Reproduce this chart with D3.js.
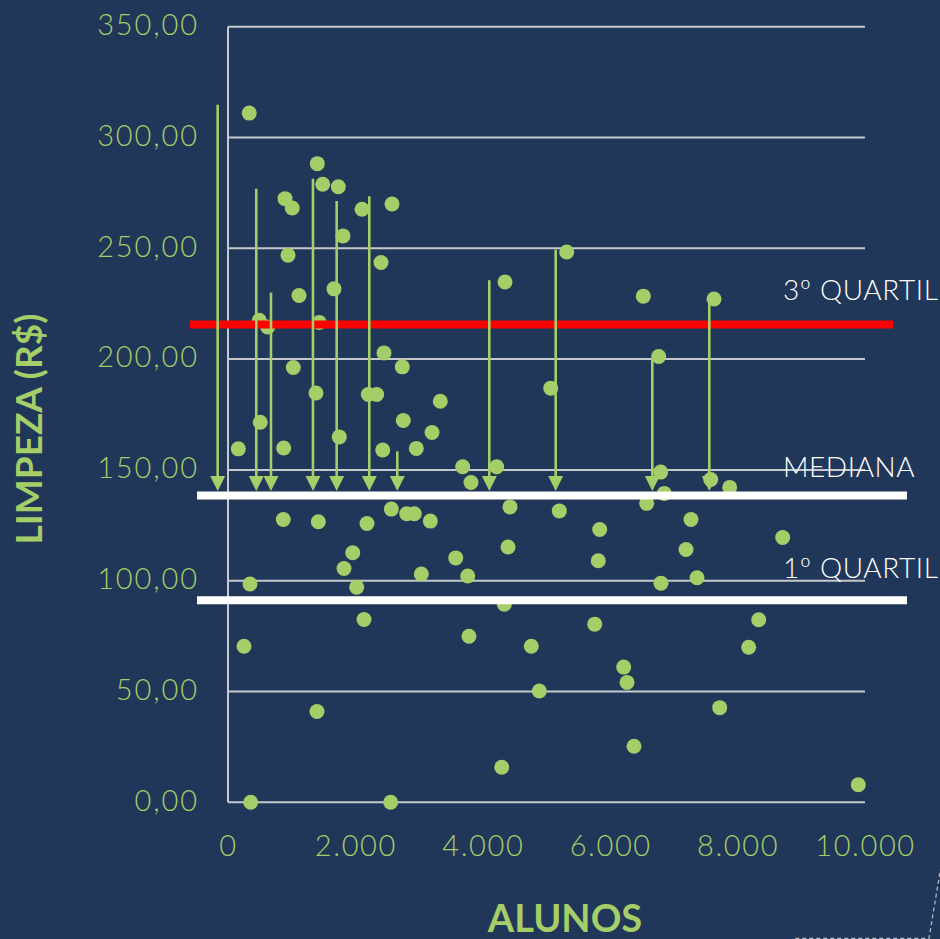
<!DOCTYPE html>
<html>
<head>
<meta charset="utf-8">
<script src="https://cdn.jsdelivr.net/npm/d3@7/dist/d3.min.js"></script>
<style>
  html, body { margin: 0; padding: 0; background: #203759; }
  svg { display: block; }
</style>
</head>
<body>
<svg id="chart" width="940" height="939"></svg>
<script>
// ---- DATA ----
const xTicks = [0, 2000, 4000, 6000, 8000, 10000];
const yTicks = [0, 50, 100, 150, 200, 250, 300, 350];

const alunos = [334,1402,1487,1732,895,1009,2104,2575,1805,942,
  2402,1115,1664,491,623,1433,2449,1025,2736,1381,
  2203,2334,507,2752,3203,3333,1747,162,874,2429,
  2956,3684,4218,3815,4349,5066,5317,6520,7630,6761,
  6793,7578,7876,6849,6573,4427,5201,2564,2805,2925,
  3176,868,1418,2182,7268,8708,5835,4396,3575,5813,
  7190,1958,1821,3035,3763,7363,6797,345,2020,4338,
  2135,5757,8331,3783,4761,8174,251,6212,6264,4887,
  7719,1397,6374,4297,9895,356,2554];
const limpeza = [311.0,288.2,278.9,277.8,272.4,268.2,267.6,270.0,255.6,246.9,
  243.6,228.7,231.7,217.5,214.5,216.5,202.8,196.2,196.5,184.7,
  184.0,184.0,171.5,172.3,166.9,181.0,164.9,159.5,159.9,159.0,
  159.7,151.4,151.4,144.3,234.8,186.9,248.3,228.4,227.1,201.2,
  149.0,145.7,142.1,139.4,134.9,133.3,131.5,132.3,130.2,130.2,
  126.9,127.6,126.6,125.8,127.6,119.5,123.1,115.2,110.3,109.0,
  114.1,112.6,105.5,103.0,102.1,101.3,98.9,98.5,97.1,89.4,
  82.5,80.4,82.4,74.9,70.4,70.0,70.4,61.0,54.1,50.2,
  42.7,41.0,25.3,15.8,7.9,0,0];

// arrows pointing down to the median
const arrowX   = [-162, 444, 675, 1334, 1706, 2218, 2658, 4102, 5144, 6661, 7556];
const arrowTop = [314.8, 276.9, 230.0, 281.4, 271.3, 273.5, 158.4, 235.6, 249.4, 200.2, 225.8];

const quartileLabels = ["3º QUARTIL", "MEDIANA", "1º QUARTIL"];
const quartileValues = [215.6, 138.5, 91.2];

const xTitle = "ALUNOS";
const yTitle = "LIMPEZA (R$)";

// ---- STYLE ----
const GREEN = "#a5cd68";
const GRID = "#c6c8cc";
const FONT = "Lato, 'Open Sans', sans-serif";

const svg = d3.select("#chart");
const W = 940, H = 939;
svg.append("rect").attr("width", W).attr("height", H).attr("fill", "#203759");

const x = d3.scaleLinear().domain([0, 10000]).range([228, 865]);
const y = d3.scaleLinear().domain([0, 350]).range([802.3, 26.7]);

const loc = d3.formatLocale({decimal: ",", thousands: ".", grouping: [3], currency: ["R$", ""]});
const fmtY = loc.format(",.2f");
const fmtX = loc.format(",d");

// grid lines
svg.append("g").selectAll("line").data(yTicks).join("line")
  .attr("x1", x(0)).attr("x2", x(10000))
  .attr("y1", d => y(d)).attr("y2", d => y(d))
  .attr("stroke", GRID).attr("stroke-width", 2);
// vertical axis line
svg.append("line")
  .attr("x1", x(0)).attr("x2", x(0))
  .attr("y1", y(350)).attr("y2", y(0))
  .attr("stroke", GRID).attr("stroke-width", 2);

// axes (labels only)
const yAxis = svg.append("g").attr("transform", `translate(${x(0)},0)`)
  .call(d3.axisLeft(y).tickValues(yTicks).tickFormat(fmtY).tickSize(0).tickPadding(29));
yAxis.select(".domain").remove();
yAxis.selectAll("text").attr("fill", GREEN).attr("font-family", FONT)
  .attr("font-weight", 300).attr("font-size", 29).attr("letter-spacing", 1.9)
  .attr("dy", "0.27em");

const xAxis = svg.append("g").attr("transform", `translate(0,${y(0)})`)
  .call(d3.axisBottom(x).tickValues(xTicks).tickFormat(fmtX).tickSize(0).tickPadding(33));
xAxis.select(".domain").remove();
xAxis.selectAll("text").attr("fill", GREEN).attr("font-family", FONT)
  .attr("font-weight", 300).attr("font-size", 29).attr("letter-spacing", 1.6);

// dots
svg.append("g").selectAll("circle").data(alunos.map((a, i) => [a, limpeza[i]])).join("circle")
  .attr("cx", d => x(d[0])).attr("cy", d => y(d[1])).attr("r", 7.5)
  .attr("fill", GREEN);

// quartile lines
const qColors = ["#ff0000", "#ffffff", "#ffffff"];
const qExt = [[-38, 28], [-31, 42], [-31, 42]];
svg.append("g").selectAll("line").data(quartileValues).join("line")
  .attr("x1", (d, i) => x(0) + qExt[i][0]).attr("x2", (d, i) => x(10000) + qExt[i][1])
  .attr("y1", d => y(d)).attr("y2", d => y(d))
  .attr("stroke", (d, i) => qColors[i]).attr("stroke-width", 8);

// arrows
const median = quartileValues[1];
const tipY = y(median) - 4.3;
const headH = 15, headW = 15;
const ag = svg.append("g");
arrowX.forEach((ax, i) => {
  const px = x(ax);
  ag.append("line")
    .attr("x1", px).attr("x2", px)
    .attr("y1", y(arrowTop[i])).attr("y2", tipY - headH + 1)
    .attr("stroke", GREEN).attr("stroke-width", 2.6);
  ag.append("path")
    .attr("d", `M${px - headW / 2},${tipY - headH}L${px + headW / 2},${tipY - headH}L${px},${tipY}Z`)
    .attr("fill", GREEN);
});

// quartile labels
const qLabelY = [300, 477, 578];
svg.append("g").selectAll("text").data(quartileLabels).join("text")
  .attr("x", 783).attr("y", (d, i) => qLabelY[i])
  .attr("fill", "#ffffff").attr("font-family", FONT).attr("font-weight", 300)
  .attr("font-size", 28).attr("letter-spacing", 0.6).text(d => d);

// axis titles
svg.append("text").attr("x", 565).attr("y", 932).attr("text-anchor", "middle")
  .attr("fill", GREEN).attr("font-family", FONT).attr("font-weight", 700)
  .attr("font-size", 38).text(xTitle);
svg.append("text").attr("transform", "translate(42,429) rotate(-90)").attr("text-anchor", "middle")
  .attr("fill", GREEN).attr("font-family", FONT).attr("font-weight", 700)
  .attr("font-size", 37).text(yTitle);

// decorative dashed corner
svg.append("path").attr("d", "M941,866L929,938.3L793,938.3")
  .attr("fill", "none").attr("stroke", "#b9bec8").attr("stroke-width", 1.2)
  .attr("stroke-dasharray", "4,3");
</script>
</body>
</html>
